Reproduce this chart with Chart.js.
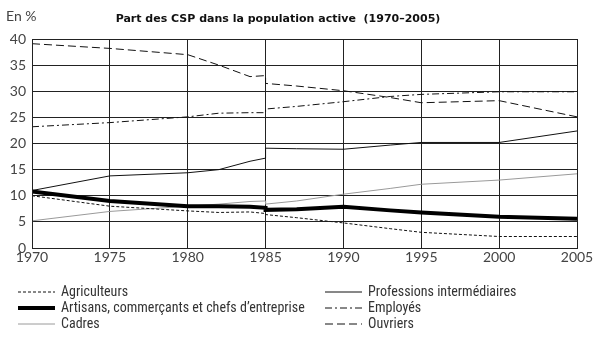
<!DOCTYPE html>
<html>
<head>
<meta charset="utf-8">
<script src="https://cdn.jsdelivr.net/npm/chart.js@4/dist/chart.umd.min.js"></script>
<style>
  body { margin: 0; background: #fff; }
  .wrap { position: relative; width: 600px; height: 337px; overflow: hidden; }
  .unit { position: absolute; left: 6px; top: 7px; font: 14px Lato, sans-serif; color: #444; }
  .title { position: absolute; left: 0; width: 556px; top: 12px; text-align: center; font: bold 11px "DejaVu Sans", sans-serif; color: #111; }
  .legend { position: absolute; top: 283px; font: 14px "Liberation Sans Narrow", "Roboto Condensed", Lato, sans-serif; color: #333; }
  .legend div { height: 16px; line-height: 16px; white-space: nowrap; }
  .legend svg { vertical-align: middle; margin-right: 6px; }
</style>
</head>
<body>
<div class="wrap">
  <canvas id="cspChart" width="600" height="337"></canvas>
  <div class="unit">En %</div>
  <div class="title">Part des CSP dans la population active&nbsp; (1970–2005)</div>
  <div class="legend" id="legendLeft" style="left:18px"></div>
  <div class="legend" id="legendRight" style="left:325px"></div>
</div>
<script>
// années (1985 doublé : rupture de série)
const years = [1970, 1975, 1980, 1982, 1984, 1985, 1985, 1987, 1990, 1993, 1995, 2000, 2005];

const agriculteurs = [10.0, 8.0, 7.1, 6.8, 6.9, 6.6, 6.4, 5.8, 4.8, 3.7, 3.0, 2.2, 2.2];
const artisans     = [10.8, 9.0, 8.0, 8.0, 7.9, 7.7, 7.3, 7.4, 7.9, 7.2, 6.8, 6.0, 5.6];
const cadres       = [5.2, 7.0, 8.0, 8.4, 8.9, 9.0, 8.4, 9.0, 10.3, 11.4, 12.2, 13.0, 14.2];
const professions  = [11.0, 13.8, 14.4, 15.0, 16.6, 17.2, 19.1, 19.0, 18.9, 19.7, 20.2, 20.2, 22.4];
const employes     = [23.2, 24.0, 25.1, 25.8, 25.9, 25.9, 26.6, 27.1, 28.0, 29.0, 29.4, 29.9, 29.9];
const ouvriers     = [39.1, 38.2, 37.0, 35.0, 32.8, 33.0, 31.5, 31.0, 30.1, 28.8, 27.8, 28.2, 25.1];

const xTicks = [1970, 1975, 1980, 1985, 1990, 1995, 2000, 2005];
const yTicks = [0, 5, 10, 15, 20, 25, 30, 35, 40];

function pts(values) {
  return values.map((v, i) => ({ x: years[i], y: v }));
}

function serie(label, values, color, width, dash) {
  return {
    label: label,
    data: pts(values),
    borderColor: color,
    borderWidth: width,
    borderDash: dash,
    pointRadius: 0,
    tension: 0,
    fill: false
  };
}

const datasets = [
  serie('Agriculteurs', agriculteurs, '#111', 1, [3, 2]),
  serie('Artisans, commerçants et chefs d\u2019entreprise', artisans, '#000', 4, []),
  serie('Cadres', cadres, '#9a9a9a', 1, []),
  serie('Professions intermédiaires', professions, '#111', 1, []),
  serie('Employés', employes, '#111', 1, [7, 3, 2, 3]),
  serie('Ouvriers', ouvriers, '#111', 1, [8, 4])
];

const ctx = document.getElementById('cspChart').getContext('2d');
const chart = new Chart(ctx, {
  type: 'line',
  data: { datasets: datasets },
  options: {
    responsive: false,
    animation: false,
    layout: { padding: { top: 39, right: 23, left: 0, bottom: 0 } },
    plugins: {
      legend: { display: false },
      tooltip: { enabled: false }
    },
    scales: {
      x: {
        type: 'linear',
        min: 1970,
        max: 2005,
        afterBuildTicks: function(scale) {
          scale.ticks = xTicks.map(v => ({ value: v }));
        },
        afterFit: function(scale) { scale.height = 89; },
        grid: { color: '#222', lineWidth: 1, drawTicks: false },
        border: { color: '#222', width: 1 },
        ticks: {
          padding: 1,
          maxRotation: 0,
          color: '#444',
          font: { family: 'Lato', size: 14 },
          callback: v => String(v)
        }
      },
      y: {
        min: 0,
        max: 40,
        afterBuildTicks: function(scale) {
          scale.ticks = yTicks.map(v => ({ value: v }));
        },
        afterFit: function(scale) { scale.width = 32; },
        grid: { color: '#222', lineWidth: 1, drawTicks: false },
        border: { color: '#222', width: 1 },
        ticks: {
          padding: 6,
          color: '#444',
          font: { family: 'Lato', size: 14 }
        }
      }
    }
  },
  plugins: [{
    id: 'frame',
    afterDraw: function(c) {
      const a = c.chartArea;
      const g = c.ctx;
      g.save();
      g.strokeStyle = '#222';
      g.lineWidth = 1;
      g.strokeRect(Math.round(a.left) + 0.5, Math.round(a.top) + 0.5,
        Math.round(a.right - a.left), Math.round(a.bottom - a.top));
      g.restore();
    }
  }]
});

// légende en deux colonnes, construite à partir des séries
function legendRow(ds) {
  const row = document.createElement('div');
  const dash = ds.borderDash.length ? ds.borderDash.join(',') : 'none';
  row.innerHTML =
    '<svg width="37" height="6"><line x1="0" y1="3" x2="37" y2="3" stroke="' + ds.borderColor +
    '" stroke-width="' + ds.borderWidth + '" stroke-dasharray="' + dash + '"/></svg>' +
    '<span></span>';
  row.querySelector('span').textContent = ds.label;
  return row;
}
const left = document.getElementById('legendLeft');
const right = document.getElementById('legendRight');
chart.data.datasets.forEach((ds, i) => {
  (i < 3 ? left : right).appendChild(legendRow(ds));
});
</script>
</body>
</html>
